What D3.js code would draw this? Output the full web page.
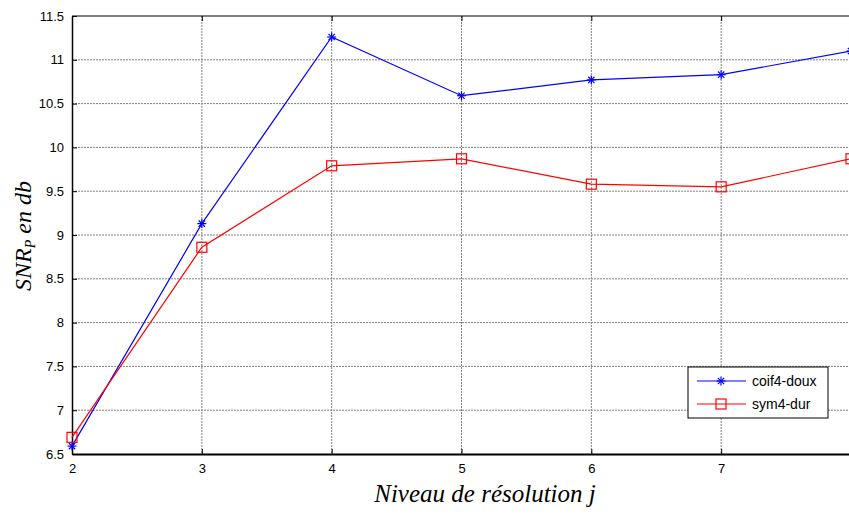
<!DOCTYPE html>
<html><head><meta charset="utf-8">
<script src="https://cdn.jsdelivr.net/npm/d3@7"></script>
<style>body{margin:0;background:#fff;overflow:hidden}svg{display:block}</style>
</head><body>
<script>
const levels = [2,3,4,5,6,7,8];
const coif4Doux = [6.59,9.13,11.26,10.59,10.77,10.83,11.10];
const sym4Dur = [6.69,8.86,9.79,9.87,9.58,9.55,9.87];
const yTicks = [6.5,7,7.5,8,8.5,9,9.5,10,10.5,11,11.5];
const xTicks = [2,3,4,5,6,7,8];
const xTickLabels = [2,3,4,5,6,7];
const seriesNames = ["coif4-doux","sym4-dur"];

const W=849,H=514;
const svg=d3.select("body").append("svg").attr("width",W).attr("height",H);
const L=72,T=16,R=851,B=454;
const x=d3.scaleLinear().domain([2,8]).range([L,R]);
const y=d3.scaleLinear().domain([6.5,11.5]).range([B,T]);
const tf="'Liberation Sans Narrow','Arial Narrow','Liberation Sans',Arial,sans-serif";

// grid
const g=svg.append("g");
g.selectAll(".hg").data(yTicks.slice(1,-1)).enter().append("line")
 .attr("x1",L).attr("x2",R).attr("y1",d=>y(d)).attr("y2",d=>y(d))
 .attr("stroke","#808080").attr("stroke-width",1).attr("stroke-dasharray","2,1");
g.selectAll(".vg").data(xTicks.slice(1,-1)).enter().append("line")
 .attr("y1",T).attr("y2",B).attr("x1",d=>x(d)).attr("x2",d=>x(d))
 .attr("stroke","#808080").attr("stroke-width",1).attr("stroke-dasharray","2,1");

// axes
const ax=svg.append("g").attr("transform",`translate(0,${B})`)
 .call(d3.axisBottom(x).tickValues(xTicks).tickSizeInner(-5).tickSizeOuter(0).tickPadding(10)
   .tickFormat(d=>xTickLabels.includes(d)?d3.format("d")(d):""));
ax.select(".domain").attr("stroke","#000").attr("stroke-width",2);
ax.selectAll("text").attr("font-family",tf).attr("font-size",13).attr("fill","#000");
const ay=svg.append("g").attr("transform",`translate(${L},0)`)
 .call(d3.axisLeft(y).tickValues(yTicks).tickSizeInner(-5).tickSizeOuter(0).tickPadding(8).tickFormat(d=>d));
ay.select(".domain").attr("stroke","#000").attr("stroke-width",1.5);
ay.selectAll("text").attr("font-family",tf).attr("font-size",13).attr("fill","#000");
// top border and top ticks
svg.append("line").attr("x1",L).attr("x2",R).attr("y1",T).attr("y2",T).attr("stroke","#000").attr("stroke-width",1);
svg.append("g").attr("transform",`translate(0,${T})`)
 .call(d3.axisTop(x).tickValues(xTicks).tickSizeInner(-5).tickSizeOuter(0).tickFormat(""))
 .select(".domain").remove();

// lines
const line=d3.line().x((d,i)=>x(levels[i])).y(d=>y(d));
svg.append("path").datum(coif4Doux).attr("d",line).attr("fill","none").attr("stroke","#0000ff").attr("stroke-width",1.2);
svg.append("path").datum(sym4Dur).attr("d",line).attr("fill","none").attr("stroke","#ff0000").attr("stroke-width",1.2);

function star(sel,cx,cy,s){
  const a=sel.append("g").attr("transform",`translate(${cx},${cy})`).attr("stroke","#0000ff").attr("stroke-width",1.2);
  a.append("line").attr("x1",-s).attr("x2",s).attr("y1",0).attr("y2",0);
  a.append("line").attr("x1",0).attr("x2",0).attr("y1",-s).attr("y2",s);
  a.append("line").attr("x1",-s*0.7).attr("x2",s*0.7).attr("y1",-s*0.7).attr("y2",s*0.7);
  a.append("line").attr("x1",-s*0.7).attr("x2",s*0.7).attr("y1",s*0.7).attr("y2",-s*0.7);
}
function sq(sel,cx,cy,s){
  sel.append("rect").attr("x",cx-s).attr("y",cy-s).attr("width",2*s).attr("height",2*s)
   .attr("fill","none").attr("stroke","#ff0000").attr("stroke-width",1.2);
}
coif4Doux.forEach((v,i)=>star(svg,x(levels[i]),y(v),4.5));
sym4Dur.forEach((v,i)=>sq(svg,x(levels[i]),y(v),5));

// legend
const lg=svg.append("g");
lg.append("rect").attr("x",688).attr("y",367).attr("width",140).attr("height",51).attr("fill","#fff").attr("stroke","#000").attr("stroke-width",1);
lg.append("line").attr("x1",697).attr("x2",746).attr("y1",381).attr("y2",381).attr("stroke","#0000ff").attr("stroke-width",1.2);
star(lg,721,381,4.5);
lg.append("line").attr("x1",697).attr("x2",746).attr("y1",404).attr("y2",404).attr("stroke","#ff0000").attr("stroke-width",1.2);
sq(lg,721,404,5);
lg.selectAll(".lt").data(seriesNames).enter().append("text")
 .attr("x",752).attr("y",(d,i)=>381+i*23+5).text(d=>d)
 .attr("font-family",tf).attr("font-size",14).attr("fill","#000");

// axis labels
const sf="'Liberation Serif','Times New Roman',serif";
const yl=svg.append("text").attr("transform",`translate(31,236) rotate(-90)`).attr("text-anchor","middle")
 .attr("font-family",sf).attr("font-style","italic").attr("font-size",24).attr("fill","#000");
yl.append("tspan").text("SNR");
yl.append("tspan").text("P").attr("font-size",14).attr("dy",4);
yl.append("tspan").text(" en db").attr("dy",-4);
svg.append("text").attr("x",485).attr("y",502).attr("text-anchor","middle")
 .attr("font-family",sf).attr("font-style","italic").attr("font-size",25).attr("fill","#000")
 .text("Niveau de résolution j");
</script>
</body></html>
